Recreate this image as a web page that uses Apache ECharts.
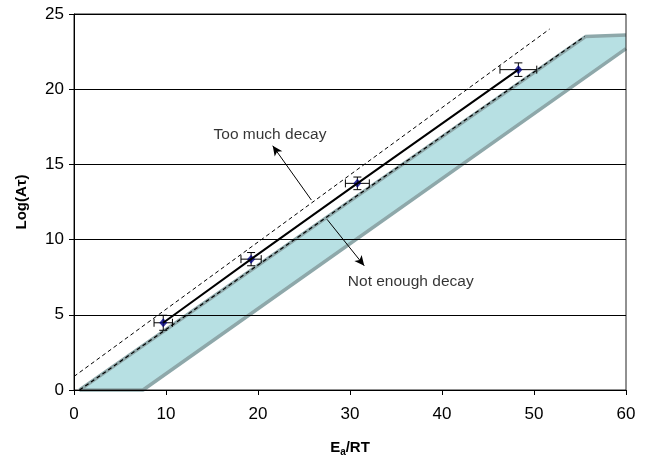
<!DOCTYPE html>
<html>
<head>
<meta charset="utf-8">
<script src="https://cdn.jsdelivr.net/npm/echarts@6/dist/echarts.min.js"></script>
<style>
html,body{margin:0;padding:0;background:#fff;}
#c{width:650px;height:464px;}
</style>
</head>
<body>
<div id="c"></div>
<script>
// Measured points (Ea/RT, Log(A tau)) with error bars
var pointX = [9.7, 19.25, 30.8, 48.3];
var pointY = [4.47, 8.7, 13.74, 21.3];
var errX = [1.0, 1.1, 1.3, 2.0];
var errY = [0.5, 0.44, 0.42, 0.45];

// Acceptance band (polygon vertices)
var bandX = [0.6, 7.5, 60, 60, 55.6];
var bandY = [0, 0, 22.7, 23.6, 23.5];
// band edges
var upperEdgeX = [0.6, 55.6, 60];
var upperEdgeY = [0, 23.5, 23.6];
var lowerEdgeX = [0.6, 7.5, 60];
var lowerEdgeY = [0, 0, 22.7];

// Dashed bound lines
var dashUpperX = [0, 51.7];
var dashUpperY = [0.9, 24.0];
var dashLowerX = [0.6, 55.5];
var dashLowerY = [0, 23.5];

// Annotations
var annoText = ['Too much decay', 'Not enough decay'];
var annoTextX = [21.3, 36.6];
var annoTextY = [16.95, 7.2];
var arrowFromX = [25.8, 27.5];
var arrowFromY = [12.63, 11.35];
var arrowToX = [21.6, 31.55];
var arrowToY = [16.24, 8.26];

var xTicks = [0, 10, 20, 30, 40, 50, 60];
var yTicks = [0, 5, 10, 15, 20, 25];

function zip(a, b) { return a.map(function (v, i) { return [v, b[i]]; }); }

var chart = echarts.init(document.getElementById('c'));
var font = '"Liberation Sans", Arial, sans-serif';

var option = {
  animation: false,
  backgroundColor: '#fff',
  textStyle: { fontFamily: font },
  grid: { left: 74, right: 24, top: 14, bottom: 74, show: true, borderColor: '#222', borderWidth: 1, backgroundColor: 'transparent' },
  xAxis: {
    type: 'value', min: xTicks[0], max: xTicks[xTicks.length - 1], interval: 10,
    name: '{b|E}{s|a}{b|/RT}', nameLocation: 'middle', nameGap: 49,
    nameTextStyle: { rich: {
      b: { fontFamily: font, fontWeight: 'bold', fontSize: 15, color: '#000' },
      s: { fontFamily: font, fontWeight: 'bold', fontSize: 10, color: '#000', verticalAlign: 'bottom', padding: [8, 0, 0, 0] }
    } },
    axisLine: { show: true, onZero: false, lineStyle: { color: '#000', width: 1 } },
    axisTick: { show: true, inside: false, length: 5, lineStyle: { color: '#000' } },
    axisLabel: { fontFamily: font, fontSize: 17, color: '#000', margin: 16 },
    splitLine: { show: false }
  },
  yAxis: {
    type: 'value', min: yTicks[0], max: yTicks[yTicks.length - 1], interval: 5,
    name: 'Log(A\u03c4)', nameLocation: 'middle', nameGap: 45,
    nameTextStyle: { fontFamily: font, fontWeight: 'bold', fontSize: 15, color: '#000' },
    axisLine: { show: true, onZero: false, lineStyle: { color: '#000', width: 1 } },
    axisTick: { show: true, inside: false, length: 5, lineStyle: { color: '#000' } },
    axisLabel: { fontFamily: font, fontSize: 17, color: '#000', margin: 10 },
    splitLine: { show: true, lineStyle: { color: '#000', width: 1 } }
  },
  series: [
    {
      type: 'custom', z: -2, silent: true,
      data: [0],
      renderItem: function (params, api) {
        var pts = bandX.map(function (x, i) { return api.coord([x, bandY[i]]); });
        return { type: 'polygon', shape: { points: pts }, style: { fill: '#b7e0e3', stroke: null } };
      }
    },
    {
      type: 'line', z: -1, silent: true, symbol: 'none', clip: false,
      data: zip(upperEdgeX, upperEdgeY),
      lineStyle: { color: '#8ea8aa', width: 3.5 }
    },
    {
      type: 'line', z: -1, silent: true, symbol: 'none', clip: false,
      data: zip(lowerEdgeX, lowerEdgeY),
      lineStyle: { color: '#8ea8aa', width: 3.5 }
    },
    {
      type: 'line', silent: true, symbol: 'none',
      data: zip(dashUpperX, dashUpperY),
      lineStyle: { color: '#000', width: 1, type: [4, 3] }
    },
    {
      type: 'line', silent: true, symbol: 'none',
      data: zip(dashLowerX, dashLowerY),
      lineStyle: { color: '#000', width: 1.2, type: [4, 3] }
    },
    {
      type: 'line', silent: true, symbol: 'none',
      data: zip(pointX, pointY),
      lineStyle: { color: '#000', width: 2 }
    },
    {
      type: 'custom', silent: true,
      data: pointX.map(function (x, i) { return [x, pointY[i], errX[i], errY[i]]; }),
      renderItem: function (params, api) {
        var x = api.value(0), y = api.value(1), ex = api.value(2), ey = api.value(3);
        var l = api.coord([x - ex, y]), r = api.coord([x + ex, y]);
        var t = api.coord([x, y + ey]), b = api.coord([x, y - ey]);
        var c = 4;
        var st = { stroke: '#000', lineWidth: 1 };
        return { type: 'group', children: [
          { type: 'line', shape: { x1: l[0], y1: l[1], x2: r[0], y2: r[1] }, style: st },
          { type: 'line', shape: { x1: l[0], y1: l[1] - c, x2: l[0], y2: l[1] + c }, style: st },
          { type: 'line', shape: { x1: r[0], y1: r[1] - c, x2: r[0], y2: r[1] + c }, style: st },
          { type: 'line', shape: { x1: t[0], y1: t[1], x2: b[0], y2: b[1] }, style: st },
          { type: 'line', shape: { x1: t[0] - c, y1: t[1], x2: t[0] + c, y2: t[1] }, style: st },
          { type: 'line', shape: { x1: b[0] - c, y1: b[1], x2: b[0] + c, y2: b[1] }, style: st }
        ] };
      }
    },
    {
      type: 'scatter', silent: true, symbol: 'diamond', symbolSize: [8, 9],
      itemStyle: { color: '#000080' },
      data: zip(pointX, pointY)
    },
    {
      type: 'scatter', silent: true, symbolSize: 0,
      data: annoText.map(function (t, i) { return { value: [annoTextX[i], annoTextY[i]], name: t }; }),
      label: { show: true, position: 'inside', formatter: '{b}', fontFamily: font, fontSize: 15.5, color: '#000' },
      markLine: {
        silent: true, symbol: ['none', 'arrow'], symbolSize: [7, 10],
        label: { show: false },
        lineStyle: { color: '#000', width: 1, type: 'solid' },
        data: arrowFromX.map(function (x, i) {
          return [{ coord: [x, arrowFromY[i]] }, { coord: [arrowToX[i], arrowToY[i]] }];
        })
      }
    }
  ]
};
chart.setOption(option);
</script>
</body>
</html>
